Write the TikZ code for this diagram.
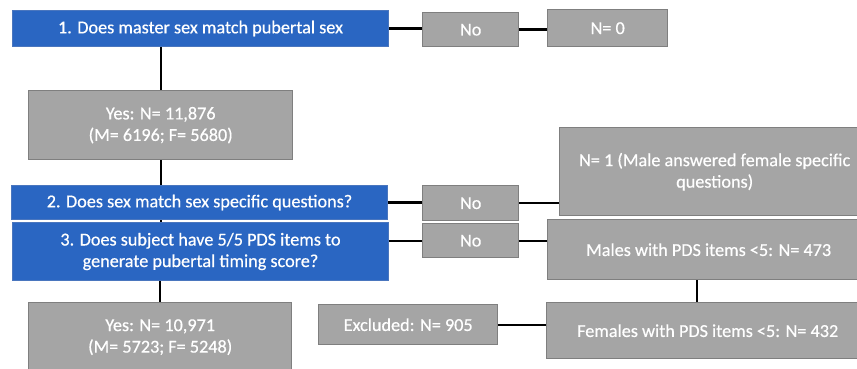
\documentclass[tikz,border=0pt]{standalone}
\usepackage{fontspec}
\setmainfont{Carlito}[FakeBold=0.5]
\usetikzlibrary{calc}
\definecolor{qblue}{HTML}{2A66C2}
\definecolor{qedge}{HTML}{4A76BE}
\definecolor{boxgray}{HTML}{A5A5A5}
\definecolor{boxedge}{HTML}{7F7F7F}
\tikzset {
  wh/.style 2 args={minimum width=#1pt, minimum height=#2pt},
  qbox/.style={draw=qedge, fill=qblue, text=white, line width=1pt,
    anchor=north west, inner sep=0pt, align=center,
    font=\fontsize{18.2}{21.5}\selectfont},
  gbox/.style={draw=boxedge, fill=boxgray, text=white, line width=1.4pt,
    anchor=north west, inner sep=0pt, align=center,
    font=\fontsize{18.2}{21.5}\selectfont},
  link/.style={line width=2.4pt}
}

\begin{document}
\begin{tikzpicture}[x=1pt,y=-1pt]
\useasboundingbox (0,0) rectangle (857,369);
\clip (0,0) rectangle (857,369);
% questions
\node[qbox, wh={376}{36}] (q1) at (12,10) {1. Does master sex match pubertal sex};
\node[qbox, wh={376}{34}] (q2) at (11,185) {2. Does sex match sex specific questions?};
\node[qbox, wh={376}{58}] (q3) at (12,222)
  {3. Does subject have 5/5 PDS items to\\generate pubertal timing score?};
% answers
\node[gbox, wh={96}{34}] (no1) at (422,12) {No};
\node[gbox, wh={120}{37}] (n0) at (547,9) {N= 0};
\node[gbox, wh={264}{69}] (yes1) at (28,90) {Yes: N= 11,876\\(M= 6196; F= 5680)};
\node[gbox, wh={96}{35}] (no2) at (422,185) {No};
\node[gbox, wh={96}{34}] (no3) at (422,223) {No};
\node[gbox, wh={310}{88}] (n1) at (559,127)
  {N= 1 (Male answered female specific\\questions)};
\node[gbox, wh={322}{60}] (males) at (547,219) {Males with PDS items <5: N= 473};
\node[gbox, wh={322}{56}] (females) at (546,302) {Females with PDS items <5: N= 432};
\node[gbox, wh={179}{40}] (excl) at (318,304) {Excluded: N= 905};
\node[gbox, wh={263}{69}] (yes2) at (28,302) {Yes: N= 10,971\\(M= 5723; F= 5248)};
% links
\draw[link] (q1.east) -- (q1.east -| no1.west);
\draw[link] (no1.east) -- (no1.east -| n0.west);
\draw[link] (q1.south -| yes1.north) -- (yes1.north);
\draw[link] (yes1.south) -- (q2.north -| yes1.south);
\draw[link] (q2.south -| yes1.south) -- (q3.north -| yes1.south);
\draw[link] (q3.south -| yes2.north) -- (yes2.north);
\draw[link] (q2.east) -- (q2.east -| no2.west);
\draw[link] (no2.east) -- (no2.east -| n1.west);
\draw[link] (no3.west) -- (no3.west -| q3.east);
\draw[link] (no3.east) -- (no3.east -| males.west);
\draw[link] ([xshift=-12pt]males.south) -- ([xshift=-12pt]males.south |- females.north);
\draw[link] (excl.east) -- (excl.east -| females.west);
\end{tikzpicture}
\end{document}
